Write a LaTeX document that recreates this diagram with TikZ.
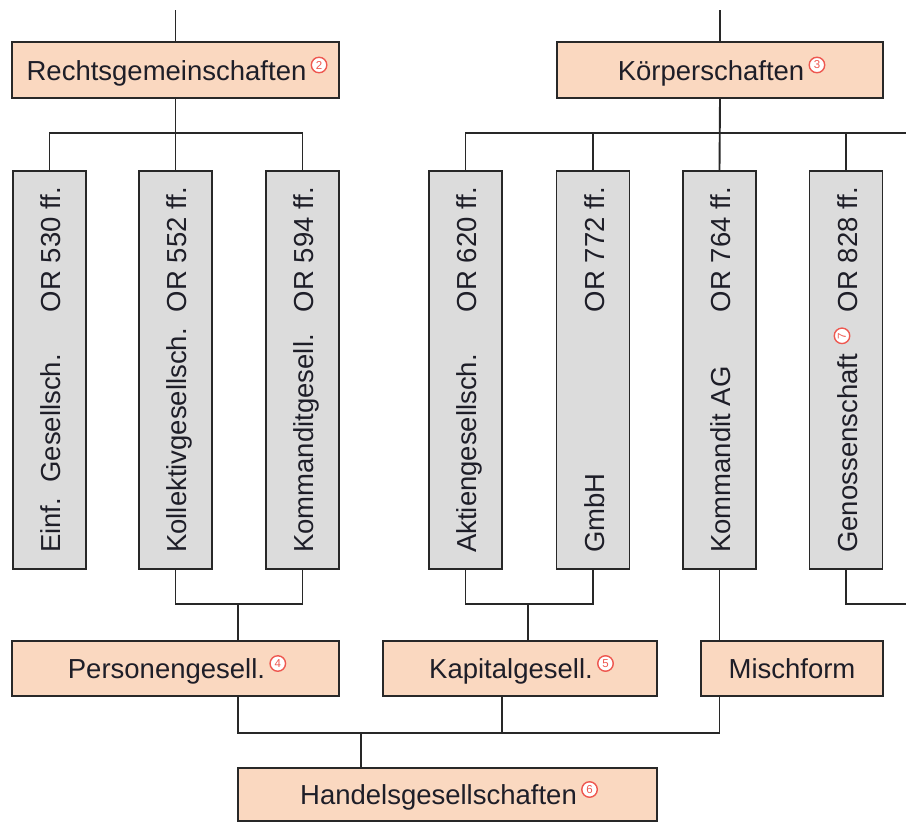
\documentclass[tikz,border=0pt]{standalone}
\usepackage{fontspec}
\setmainfont{Liberation Sans}
\usetikzlibrary{calc}
\definecolor{peach}{RGB}{250,216,192}
\definecolor{grayc}{RGB}{220,220,220}
\definecolor{linec}{RGB}{40,40,40}
\definecolor{txtc}{RGB}{30,30,40}
\definecolor{cnc}{RGB}{238,88,80}
\tikzset{
  conn/.style={draw=linec, line width=1.9pt},
  hbox/.style={draw=linec, fill=peach, line width=1.9pt, inner sep=0pt},
  colbox/.style={draw=linec, fill=grayc, line width=1.9pt, inner sep=0pt, minimum width=73pt, minimum height=398pt},
  lbl/.style={font=\fontsize{27.5}{33}\selectfont, text=txtc, inner sep=0pt, anchor=base},
  vlbl/.style={font=\fontsize{27.5}{33}\selectfont, text=txtc, inner sep=0pt, rotate=90},
  cn/.style={circle, draw=cnc, fill=white, line width=1.4pt, minimum size=15.5pt, inner sep=0pt, text=cnc, font=\fontsize{11.5}{11.5}\selectfont}
}
\begin{document}
\frenchspacing
\begin{tikzpicture}[x=1pt,y=-1pt]
\useasboundingbox (0,0) rectangle (906,822);
% top boxes
\node[hbox, minimum width=327pt, minimum height=56pt] (R) at (175.5,70) {};
\node[lbl] (tR) at (166.5,80) {Rechtsgemeinschaften};
\node[cn] (cR) at ($(tR.base east)+(12.5,-15)$) {2};
\node[hbox, minimum width=326pt, minimum height=56pt] (K) at (720,70) {};
\node[lbl] (tK) at (711,80) {Körperschaften};
\node[cn] (cK) at ($(tK.base east)+(12.5,-15)$) {3};
% columns
\node[colbox] (einf) at (49.5,370) {};
\node[colbox] (koll) at (175.5,370) {};
\node[colbox] (komm) at (302.5,370) {};
\node[colbox] (akt) at (465.5,370) {};
\node[colbox] (gmbh) at (593,370) {};
\node[colbox] (kag) at (719.5,370) {};
\node[colbox] (gen) at (846,370) {};
\foreach \c/\n/\o in {einf/Einf.\ \ Gesellsch./OR 530 ff., koll/Kollektivgesellsch./OR 552 ff., komm/Kommanditgesell./OR 594 ff., akt/Aktiengesellsch./OR 620 ff., gmbh/GmbH/OR 772 ff., kag/Kommandit AG/OR 764 ff., gen/Genossenschaft/OR 828 ff.}{
  \node[vlbl, anchor=base west] (n\c) at ($(\c.south)+(11,-17)$) {\n};
  \node[vlbl, anchor=base east] (o\c) at ($(\c.north)+(11,17)$) {\o};
}
\node[cn, rotate=90] (c7) at ($(ngen.base east)+(-15,-18)$) {7};
% bottom boxes
\node[hbox, minimum width=327pt, minimum height=55pt] (P) at (175.5,668.5) {};
\node[lbl] (tP) at (166.5,678.5) {Personengesell.};
\node[cn] (cP) at ($(tP.base east)+(12.5,-15)$) {4};
\node[hbox, minimum width=274pt, minimum height=55pt] (Kap) at (520,668.5) {};
\node[lbl] (tKap) at (511,678.5) {Kapitalgesell.};
\node[cn] (cKap) at ($(tKap.base east)+(12.5,-15)$) {5};
\node[hbox, minimum width=182pt, minimum height=55pt] (M) at (792,668.5) {};
\node[lbl] (tM) at (792,678.5) {Mischform};
\node[hbox, minimum width=419pt, minimum height=53pt] (H) at (447.5,794.5) {};
\node[lbl] (tH) at (438.5,804.5) {Handelsgesellschaften};
\node[cn] (cH) at ($(tH.base east)+(12.5,-15)$) {6};
% coordinates
\coordinate (topR) at (175.5,10);
\coordinate (topK) at (720,10);
\coordinate (yb) at (0,133);
\coordinate (rightA) at (906,133);
\coordinate (jP) at (238,604);
\coordinate (jK) at (528,604);
\coordinate (gR) at (906,604);
\coordinate (kx) at (502,0);
\coordinate (jH) at (361,733);
% connectors
\draw[conn] (topR) -- (R.north);
\draw[conn] (topK) -- (K.north);
\draw[conn] (R.south) -- (koll.north);
\draw[conn] (einf.north) |- (komm.north |- yb) -- (komm.north);
\draw[conn] (K.south) -- (kag.north);
\draw[conn] (akt.north) |- (rightA);
\draw[conn] (gmbh.north) -- (gmbh.north |- yb);
\draw[conn] (gen.north) -- (gen.north |- yb);
\draw[conn] (koll.south) |- (jP) -| (komm.south);
\draw[conn] (jP) -- (jP |- P.north);
\draw[conn] (akt.south) |- (jK) -| (gmbh.south);
\draw[conn] (jK) -- (jK |- Kap.north);
\draw[conn] (kag.south) -- (kag.south |- M.north);
\draw[conn] (gen.south) |- (gR);
\draw[conn] (jP |- P.south) |- (kag.south |- jH) -- (kag.south |- M.south);
\draw[conn] (kx |- Kap.south) -- (kx |- jH);
\draw[conn] (jH) -- (jH |- H.north);
\end{tikzpicture}
\end{document}
